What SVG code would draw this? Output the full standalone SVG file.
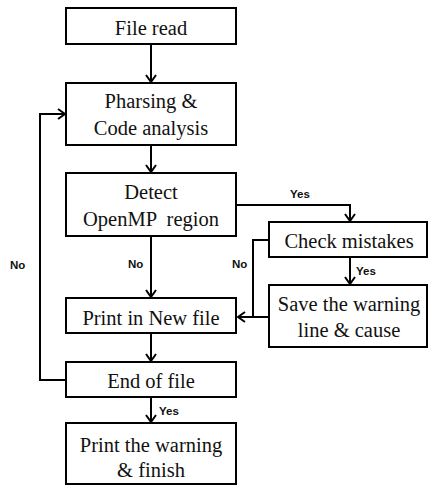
<svg xmlns="http://www.w3.org/2000/svg" width="428" height="486" viewBox="0 0 428 486">
<style>
  .box { fill: #ffffff; stroke: #000000; stroke-width: 2; }
  .t { font-family: "Liberation Serif", "Times New Roman", serif; font-size: 20.5px; fill: #111111; text-anchor: middle; }
  .lbl { font-family: "Liberation Sans", Arial, sans-serif; font-size: 11.5px; font-weight: bold; fill: #111111; }
  .c { fill: none; stroke: #000000; stroke-width: 2; }
</style>
<defs>
  <marker id="arr" viewBox="0 0 10 12" refX="9" refY="6" markerWidth="10" markerHeight="12" markerUnits="userSpaceOnUse" orient="auto">
    <path d="M2,1 L9,6 L2,11" fill="none" stroke="#000000" stroke-width="2"/>
  </marker>
</defs>
<rect width="428" height="486" fill="#ffffff"/>

<g id="connectors">
  <path class="c" d="M151,44 V82" marker-end="url(#arr)"/>
  <path class="c" d="M151,145 V172" marker-end="url(#arr)"/>
  <path class="c" d="M151,236 V297" marker-end="url(#arr)"/>
  <path class="c" d="M236,205 H350 V221" marker-end="url(#arr)"/>
  <path class="c" d="M350,257 V284" marker-end="url(#arr)"/>
  <path class="c" d="M269,317 H238" marker-end="url(#arr)"/>
  <path class="c" d="M269,240 H253 V317"/>
  <path class="c" d="M151,333 V361" marker-end="url(#arr)"/>
  <path class="c" d="M66,380 H40 V114 H65" marker-end="url(#arr)"/>
  <path class="c" d="M151,397 V422" marker-end="url(#arr)"/>
  <text class="lbl" x="290" y="198">Yes</text>
  <text class="lbl" x="356" y="275">Yes</text>
  <text class="lbl" x="159" y="415">Yes</text>
  <text class="lbl" x="128" y="268">No</text>
  <text class="lbl" x="232" y="268">No</text>
  <text class="lbl" x="10" y="269">No</text>
</g>

<g id="file-read">
  <rect class="box" x="66" y="8" width="170" height="36"/>
  <text class="t" x="151" y="35">File read</text>
</g>
<g id="parsing">
  <rect class="box" x="66" y="83" width="170" height="62"/>
  <text class="t" x="151" y="108">Pharsing &amp;</text>
  <text class="t" x="151" y="135">Code analysis</text>
</g>
<g id="detect">
  <rect class="box" x="66" y="173" width="170" height="63"/>
  <text class="t" x="151" y="199">Detect</text>
  <text class="t" x="151" y="226" xml:space="preserve">OpenMP  region</text>
</g>
<g id="check">
  <rect class="box" x="269" y="222" width="158" height="35"/>
  <text class="t" x="349" y="248">Check mistakes</text>
</g>
<g id="save">
  <rect class="box" x="269" y="285" width="158" height="62"/>
  <text class="t" x="349" y="311">Save the warning</text>
  <text class="t" x="349" y="337">line &amp; cause</text>
</g>
<g id="print-new">
  <rect class="box" x="66" y="298" width="170" height="35"/>
  <text class="t" x="151" y="325">Print in New file</text>
</g>
<g id="end-of-file">
  <rect class="box" x="66" y="362" width="170" height="35"/>
  <text class="t" x="151" y="388">End of file</text>
</g>
<g id="print-warning">
  <rect class="box" x="66" y="423" width="170" height="61"/>
  <text class="t" x="151" y="452">Print the warning</text>
  <text class="t" x="151" y="477">&amp; finish</text>
</g>
</svg>
